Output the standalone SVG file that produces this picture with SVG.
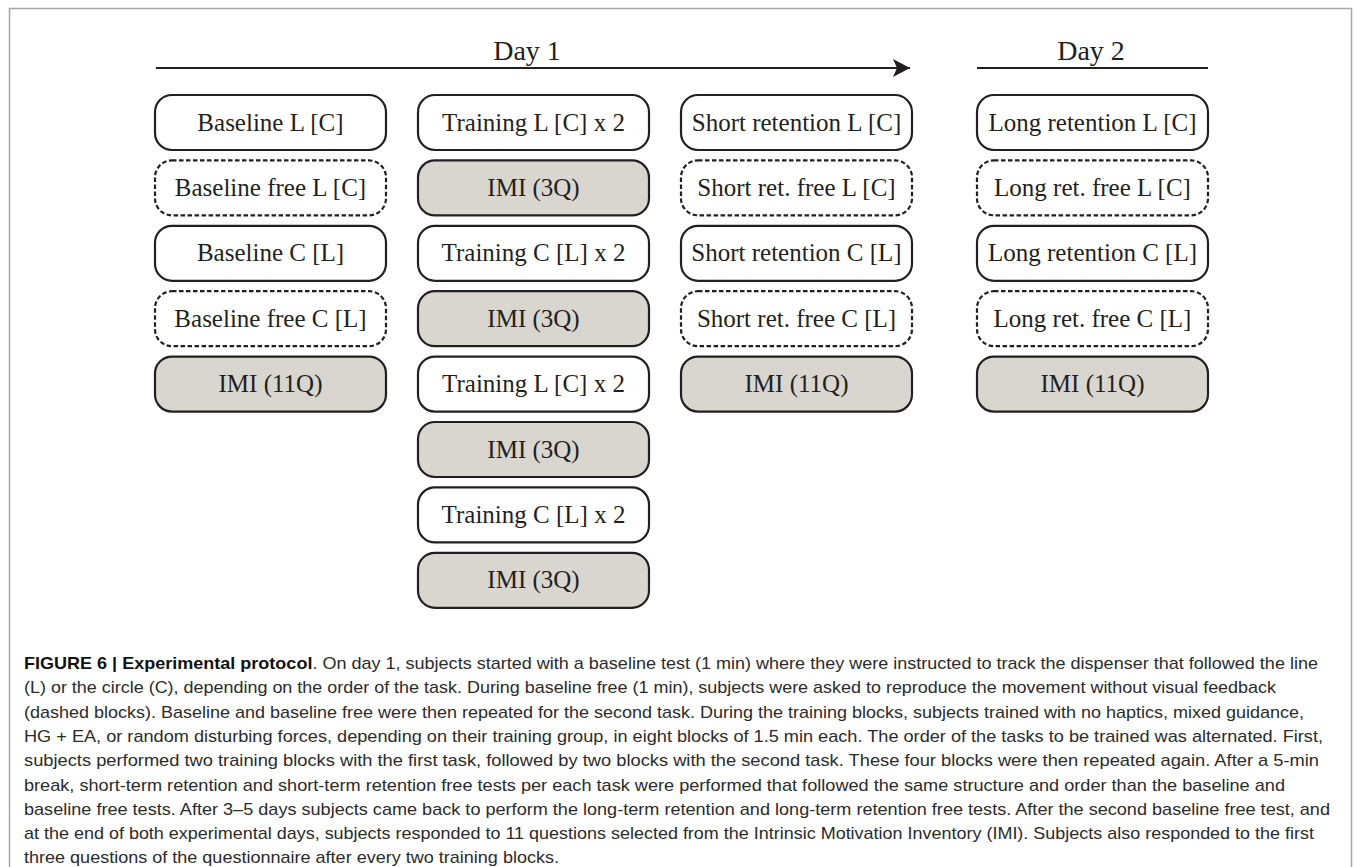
<svg xmlns="http://www.w3.org/2000/svg" width="1357" height="867" viewBox="0 0 1357 867">
<style>
.frame{fill:#fff;stroke:#a7a7a7;stroke-width:1.5}
.box{fill:#fff;stroke:#231f20;stroke-width:2.2}
.dash{stroke-dasharray:4.5 2.5}
.gray{fill:#d9d6d0}
.lbl{font-family:"Liberation Serif","Times New Roman",serif;font-size:25px;fill:#231f20;text-anchor:middle}
.day{font-family:"Liberation Serif","Times New Roman",serif;font-size:28px;fill:#231f20;text-anchor:middle}
.axis{stroke:#231f20;stroke-width:2;fill:none}
.cap{font-family:"Liberation Sans",Arial,sans-serif;font-size:17px;fill:#2b2b2b}
.capb{font-weight:bold;fill:#111}
</style>
<defs>
<marker id="ah" markerUnits="userSpaceOnUse" markerWidth="20" markerHeight="20" viewBox="0 0 20 20" refX="17" refY="10" orient="auto">
<path d="M0,1 L17,10 L0,19 L4,10 Z" fill="#231f20"/>
</marker>
</defs>
<rect class="frame" x="9.5" y="8.5" width="1342" height="900"/>
<g id="timeline">
<text class="day" x="527" y="60">Day 1</text>
<text class="day" x="1091" y="60">Day 2</text>
</g>
<g id="connectors">
<line class="axis" x1="156" y1="68" x2="910" y2="68" marker-end="url(#ah)"/>
<line class="axis" x1="977" y1="68" x2="1208" y2="68"/>
</g>
<g id="col1">
<g id="n-baseline-L"><rect class="box" x="155" y="95" width="231" height="55" rx="17"/><text class="lbl" x="270.5" y="130.5">Baseline L [C]</text></g>
<g id="n-baseline-free-L"><rect class="box dash" x="155" y="160.4" width="231" height="55" rx="17"/><text class="lbl" x="270.5" y="195.9">Baseline free L [C]</text></g>
<g id="n-baseline-C"><rect class="box" x="155" y="225.8" width="231" height="55" rx="17"/><text class="lbl" x="270.5" y="261.3">Baseline C [L]</text></g>
<g id="n-baseline-free-C"><rect class="box dash" x="155" y="291.2" width="231" height="55" rx="17"/><text class="lbl" x="270.5" y="326.7">Baseline free C [L]</text></g>
<g id="n-imi11-1"><rect class="box gray" x="155" y="356.6" width="231" height="55" rx="17"/><text class="lbl" x="270.5" y="392.1">IMI (11Q)</text></g>
</g>
<g id="col2">
<g id="n-train-1"><rect class="box" x="418" y="95" width="231" height="55" rx="17"/><text class="lbl" x="533.5" y="130.5">Training L [C] x 2</text></g>
<g id="n-imi3-1"><rect class="box gray" x="418" y="160.4" width="231" height="55" rx="17"/><text class="lbl" x="533.5" y="195.9">IMI (3Q)</text></g>
<g id="n-train-2"><rect class="box" x="418" y="225.8" width="231" height="55" rx="17"/><text class="lbl" x="533.5" y="261.3">Training C [L] x 2</text></g>
<g id="n-imi3-2"><rect class="box gray" x="418" y="291.2" width="231" height="55" rx="17"/><text class="lbl" x="533.5" y="326.7">IMI (3Q)</text></g>
<g id="n-train-3"><rect class="box" x="418" y="356.6" width="231" height="55" rx="17"/><text class="lbl" x="533.5" y="392.1">Training L [C] x 2</text></g>
<g id="n-imi3-3"><rect class="box gray" x="418" y="422" width="231" height="55" rx="17"/><text class="lbl" x="533.5" y="457.5">IMI (3Q)</text></g>
<g id="n-train-4"><rect class="box" x="418" y="487.4" width="231" height="55" rx="17"/><text class="lbl" x="533.5" y="522.9">Training C [L] x 2</text></g>
<g id="n-imi3-4"><rect class="box gray" x="418" y="552.8" width="231" height="55" rx="17"/><text class="lbl" x="533.5" y="588.3">IMI (3Q)</text></g>
</g>
<g id="col3">
<g id="n-short-L"><rect class="box" x="681" y="95" width="231" height="55" rx="17"/><text class="lbl" x="796.5" y="130.5">Short retention L [C]</text></g>
<g id="n-short-free-L"><rect class="box dash" x="681" y="160.4" width="231" height="55" rx="17"/><text class="lbl" x="796.5" y="195.9">Short ret. free L [C]</text></g>
<g id="n-short-C"><rect class="box" x="681" y="225.8" width="231" height="55" rx="17"/><text class="lbl" x="796.5" y="261.3">Short retention C [L]</text></g>
<g id="n-short-free-C"><rect class="box dash" x="681" y="291.2" width="231" height="55" rx="17"/><text class="lbl" x="796.5" y="326.7">Short ret. free C [L]</text></g>
<g id="n-imi11-2"><rect class="box gray" x="681" y="356.6" width="231" height="55" rx="17"/><text class="lbl" x="796.5" y="392.1">IMI (11Q)</text></g>
</g>
<g id="col4">
<g id="n-long-L"><rect class="box" x="977" y="95" width="231" height="55" rx="17"/><text class="lbl" x="1092.5" y="130.5">Long retention L [C]</text></g>
<g id="n-long-free-L"><rect class="box dash" x="977" y="160.4" width="231" height="55" rx="17"/><text class="lbl" x="1092.5" y="195.9">Long ret. free L [C]</text></g>
<g id="n-long-C"><rect class="box" x="977" y="225.8" width="231" height="55" rx="17"/><text class="lbl" x="1092.5" y="261.3">Long retention C [L]</text></g>
<g id="n-long-free-C"><rect class="box dash" x="977" y="291.2" width="231" height="55" rx="17"/><text class="lbl" x="1092.5" y="326.7">Long ret. free C [L]</text></g>
<g id="n-imi11-3"><rect class="box gray" x="977" y="356.6" width="231" height="55" rx="17"/><text class="lbl" x="1092.5" y="392.1">IMI (11Q)</text></g>
</g>
<g id="caption">
<text class="cap" x="24" y="669" textLength="1294" lengthAdjust="spacingAndGlyphs"><tspan class="capb">FIGURE 6 | Experimental protocol</tspan>. On day 1, subjects started with a baseline test (1 min) where they were instructed to track the dispenser that followed the line</text>
<text class="cap" x="24" y="693.3" textLength="1252" lengthAdjust="spacingAndGlyphs">(L) or the circle (C), depending on the order of the task. During baseline free (1 min), subjects were asked to reproduce the movement without visual feedback</text>
<text class="cap" x="24" y="717.6" textLength="1280" lengthAdjust="spacingAndGlyphs">(dashed blocks). Baseline and baseline free were then repeated for the second task. During the training blocks, subjects trained with no haptics, mixed guidance,</text>
<text class="cap" x="24" y="741.9" textLength="1299" lengthAdjust="spacingAndGlyphs">HG + EA, or random disturbing forces, depending on their training group, in eight blocks of 1.5 min each. The order of the tasks to be trained was alternated. First,</text>
<text class="cap" x="24" y="766.2" textLength="1295" lengthAdjust="spacingAndGlyphs">subjects performed two training blocks with the first task, followed by two blocks with the second task. These four blocks were then repeated again. After a 5-min</text>
<text class="cap" x="24" y="790.5" textLength="1261" lengthAdjust="spacingAndGlyphs">break, short-term retention and short-term retention free tests per each task were performed that followed the same structure and order than the baseline and</text>
<text class="cap" x="24" y="814.8" textLength="1306" lengthAdjust="spacingAndGlyphs">baseline free tests. After 3–5 days subjects came back to perform the long-term retention and long-term retention free tests. After the second baseline free test, and</text>
<text class="cap" x="24" y="839.1" textLength="1290" lengthAdjust="spacingAndGlyphs">at the end of both experimental days, subjects responded to 11 questions selected from the Intrinsic Motivation Inventory (IMI). Subjects also responded to the first</text>
<text class="cap" x="24" y="863.4" textLength="535" lengthAdjust="spacingAndGlyphs">three questions of the questionnaire after every two training blocks.</text>
</g>
</svg>
